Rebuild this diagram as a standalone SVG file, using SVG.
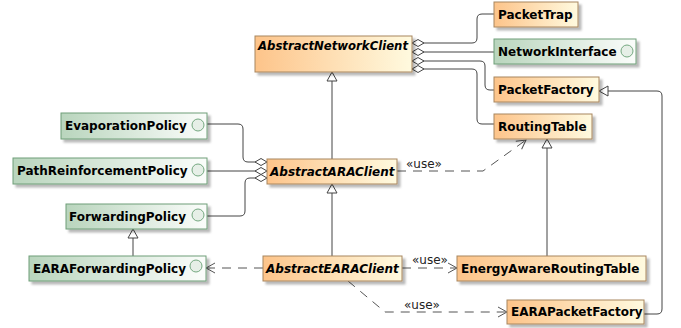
<svg xmlns="http://www.w3.org/2000/svg" width="681" height="328" viewBox="0 0 681 328">
<style>
.cls{fill:url(#gc);stroke:#A8865E;stroke-width:1;filter:url(#sh)}
.ifc{fill:url(#gi);stroke:#6E9E78;stroke-width:1;filter:url(#sh)}
.dot{fill:#E6EFE7;stroke:#74A880;stroke-width:1}
.t{font-family:"DejaVu Sans","Liberation Sans",sans-serif;font-weight:bold;font-size:12px;fill:#000}
.it{font-style:italic}
.lbl{font-family:"DejaVu Sans","Liberation Sans",sans-serif;font-size:12px;fill:#222}
.ln{fill:none;stroke:#444;stroke-width:1}
.ds{fill:none;stroke:#555;stroke-width:1;stroke-dasharray:9,7}
</style>
<defs>
<linearGradient id="gc" x1="0" y1="0" x2="1" y2="0"><stop offset="0" stop-color="#FDC48A"/><stop offset="1" stop-color="#FFFADF"/></linearGradient>
<linearGradient id="gi" x1="0" y1="0" x2="1" y2="0"><stop offset="0" stop-color="#B9D5BD"/><stop offset="1" stop-color="#FBFDFB"/></linearGradient>
<filter id="sh" x="-10%" y="-20%" width="130%" height="160%"><feDropShadow dx="3" dy="3" stdDeviation="1" flood-color="#000" flood-opacity="0.28"/></filter>
<marker id="dia" markerUnits="userSpaceOnUse" markerWidth="14" markerHeight="10" refX="0" refY="4" orient="auto" overflow="visible"><path d="M0,4 L6,0.5 L12,4 L6,7.5 Z" fill="#fff" stroke="#444" stroke-width="1"/></marker>
<marker id="tri" markerUnits="userSpaceOnUse" markerWidth="12" markerHeight="12" refX="9" refY="5" orient="auto" overflow="visible"><path d="M0,0 L9,5 L0,10 Z" fill="#fff" stroke="#444" stroke-width="1"/></marker>
<marker id="arr" markerUnits="userSpaceOnUse" markerWidth="12" markerHeight="12" refX="9" refY="5" orient="auto" overflow="visible"><path d="M0,0 L9,5 L0,10" fill="none" stroke="#555" stroke-width="1"/></marker>
</defs>
<g id="connectors">
<path class="ln" marker-start="url(#dia)" d="M412,43 H472 Q477,43 477,38 V19 Q477,14 482,14 H494"/>
<path class="ln" marker-start="url(#dia)" d="M412,52 H494"/>
<path class="ln" marker-start="url(#dia)" d="M412,61 H480 Q485,61 485,66 V85 Q485,90 490,90 H494"/>
<path class="ln" marker-start="url(#dia)" d="M412,69 H472 Q477,69 477,74 V119 Q477,124 482,124 H494"/>
<path class="ln" marker-end="url(#tri)" d="M644,314 H657 Q662,314 662,309 V96 Q662,91 657,91 H599"/>
<path class="ln" marker-end="url(#tri)" d="M547,256 V139"/>
<path class="ln" marker-end="url(#tri)" d="M332,159 V72"/>
<path class="ln" marker-end="url(#tri)" d="M332,256 V184"/>
<path class="ln" marker-end="url(#tri)" d="M133,256 V229"/>
<path class="ln" marker-start="url(#dia)" d="M267,162 H248 Q243,162 243,157 V129 Q243,124 238,124 H207"/>
<path class="ln" marker-start="url(#dia)" d="M267,171 H207"/>
<path class="ln" marker-start="url(#dia)" d="M267,178 H250 Q245,178 245,183 V211 Q245,216 240,216 H207"/>
<path class="ds" marker-end="url(#arr)" d="M397,171 H483 L526,140"/>
<text class="lbl" x="406" y="168">«use»</text>
<path class="ds" marker-end="url(#arr)" d="M263,268 H206"/>
<path class="ds" marker-end="url(#arr)" d="M402,268 H457"/>
<text class="lbl" x="412" y="264">«use»</text>
<path class="ds" marker-end="url(#arr)" d="M348,281 L385,312 H507"/>
<text class="lbl" x="404" y="309">«use»</text>
</g>
<g id="AbstractNetworkClient"><rect class="cls" x="255" y="36" width="157" height="36"/><text class="t it" x="258" y="50" textLength="150" lengthAdjust="spacingAndGlyphs">AbstractNetworkClient</text></g>
<g id="PacketTrap"><rect class="cls" x="494" y="2" width="84" height="25"/><text class="t" x="498" y="19">PacketTrap</text></g>
<g id="NetworkInterface"><rect class="ifc" x="494" y="39" width="142" height="25"/><text class="t" x="498" y="56">NetworkInterface</text><circle class="dot" cx="627" cy="51" r="6"/></g>
<g id="PacketFactory"><rect class="cls" x="494" y="77" width="105" height="25"/><text class="t" x="498" y="94">PacketFactory</text></g>
<g id="RoutingTable"><rect class="cls" x="494" y="114" width="98" height="25"/><text class="t" x="498" y="131">RoutingTable</text></g>
<g id="EvaporationPolicy"><rect class="ifc" x="61" y="113" width="146" height="26"/><text class="t" x="65" y="130">EvaporationPolicy</text><circle class="dot" cx="198" cy="125" r="6"/></g>
<g id="PathReinforcementPolicy"><rect class="ifc" x="13" y="158" width="194" height="26"/><text class="t" x="17" y="175">PathReinforcementPolicy</text><circle class="dot" cx="198" cy="170" r="6"/></g>
<g id="AbstractARAClient"><rect class="cls" x="267" y="159" width="130" height="25"/><text class="t it" x="270" y="176">AbstractARAClient</text></g>
<g id="ForwardingPolicy"><rect class="ifc" x="66" y="204" width="141" height="25"/><text class="t" x="69" y="221">ForwardingPolicy</text><circle class="dot" cx="198" cy="215" r="6"/></g>
<g id="EARAForwardingPolicy"><rect class="ifc" x="29" y="256" width="177" height="25"/><text class="t" x="33" y="273">EARAForwardingPolicy</text><circle class="dot" cx="196" cy="266" r="6"/></g>
<g id="AbstractEARAClient"><rect class="cls" x="263" y="256" width="139" height="25"/><text class="t it" x="266" y="273">AbstractEARAClient</text></g>
<g id="EnergyAwareRoutingTable"><rect class="cls" x="457" y="256" width="189" height="25"/><text class="t" x="461" y="273">EnergyAwareRoutingTable</text></g>
<g id="EARAPacketFactory"><rect class="cls" x="507" y="300" width="137" height="24"/><text class="t" x="511" y="316">EARAPacketFactory</text></g>
</svg>
